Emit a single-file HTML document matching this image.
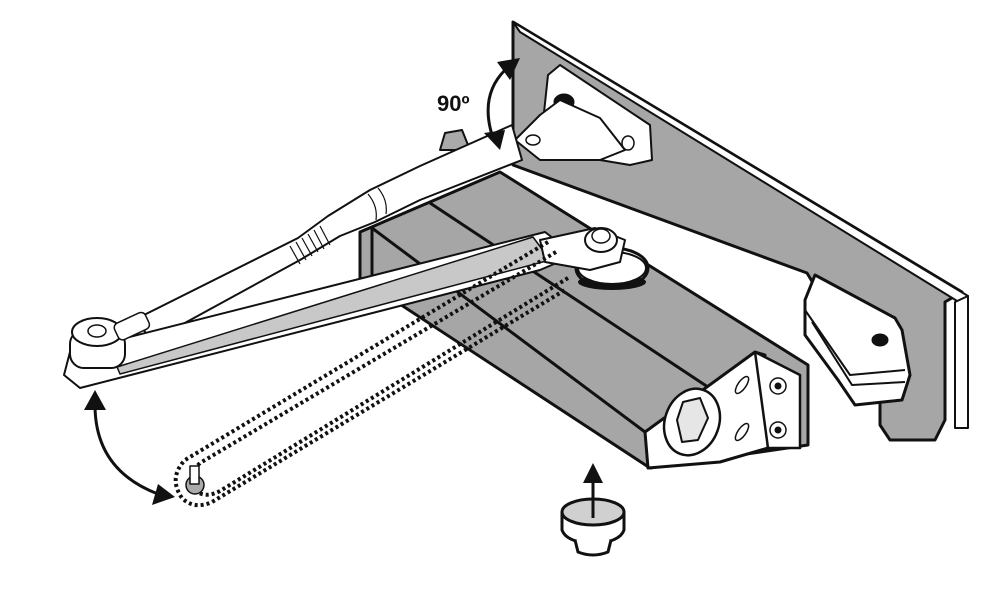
<!DOCTYPE html>
<html><head><style>html,body{margin:0;padding:0;background:#fff}svg{display:block}</style></head>
<body>
<svg width="1000" height="608" viewBox="0 0 1000 608" xmlns="http://www.w3.org/2000/svg">
<g stroke="#111" stroke-linejoin="round">
<!-- frame plate -->
<polygon points="513,22 962,292 945,302 945,420 935,440 890,440 880,425 880,395 807,273 513,165" fill="#a6a6a6" stroke-width="3"/>
<polygon points="513,22 968,296 962,304 520,32" fill="#fff" stroke-width="2"/>
<polygon points="955,302 968,296 968,428 955,428" fill="#fff" stroke-width="2"/>
<!-- top bracket -->
<polygon points="548,75 560,65 650,125 652,160 630,165 540,150" fill="#fff" stroke-width="2"/>
<ellipse cx="564" cy="102" rx="10" ry="8" fill="#111"/>
<polygon points="515,140 540,115 560,100 600,118 625,150 600,160 540,160" fill="#fff" stroke-width="2"/>
<ellipse cx="533" cy="140" rx="7" ry="5" fill="none" stroke-width="1.5"/>
<ellipse cx="628" cy="143" rx="6" ry="7" fill="none" stroke-width="1.5"/>
<!-- small block -->
<polygon points="440,150 445,133 462,130 470,150" fill="#aaa" stroke-width="2"/>
<!-- closer body -->
<polygon points="360,232 500,172 808,365 808,445 650,468 360,278" fill="#a6a6a6" stroke-width="3"/>
<line x1="430" y1="203" x2="720" y2="395" stroke-width="3"/>
<line x1="372" y1="228" x2="645" y2="432" stroke-width="3"/>
<line x1="372" y1="228" x2="372" y2="285" stroke-width="3"/>
<!-- end face -->
<polygon points="645,432 755,352 765,355 768,448 720,462 648,468" fill="#fff" stroke-width="3"/>
<polygon points="755,352 800,375 800,448 768,448" fill="#fff" stroke-width="2.5"/>
<ellipse cx="692" cy="422" rx="27" ry="34" fill="#fff" stroke-width="2.5" transform="rotate(20 692 422)"/>
<polygon points="683,402 700,398 708,418 698,440 682,442 677,420" fill="#e6e6e6" stroke-width="2"/>
<ellipse cx="742" cy="385" rx="4" ry="10" fill="#fff" stroke-width="1.5" transform="rotate(35 742 385)"/>
<ellipse cx="742" cy="432" rx="4" ry="10" fill="#fff" stroke-width="1.5" transform="rotate(35 742 432)"/>
<circle cx="778" cy="386" r="8" fill="#fff" stroke-width="1.5"/><circle cx="778" cy="386" r="3" fill="#111"/>
<circle cx="778" cy="430" r="8" fill="#fff" stroke-width="1.5"/><circle cx="778" cy="430" r="3" fill="#111"/>
<!-- right bracket -->
<path d="M805,300 L815,275 L895,318 L902,330 L910,375 L902,400 L855,405 L838,380 L805,335 Z" fill="#fff" stroke-width="3"/>
<path d="M805,310 L850,375 L905,370" fill="none" stroke-width="2"/>
<path d="M812,322 L852,385 L905,382" fill="none" stroke-width="2"/>
<ellipse cx="880" cy="340" rx="8" ry="6" fill="#111"/>
<!-- upper rod -->
<polygon points="512,125 522,160 420,200 375,222 340,236 300,260 150,342 138,318 298,238 328,216 370,190 420,166" fill="#fff" stroke-width="2"/>
<g stroke-width="1.2" fill="none">
<line x1="290" y1="246" x2="300" y2="264"/><line x1="296" y1="242" x2="306" y2="260"/><line x1="302" y1="238" x2="312" y2="256"/><line x1="308" y1="234" x2="318" y2="252"/><line x1="314" y1="230" x2="324" y2="249"/><line x1="320" y1="226" x2="330" y2="245"/>
<path d="M368,194 q10,12 8,26"/><path d="M378,188 q10,12 8,26"/>
</g>
<!-- lower flat arm -->
<polygon points="70,352 545,232 575,255 540,270 80,388 64,375" fill="#fff" stroke-width="2"/>
<polygon points="117,367 533,237 550,260 120,374" fill="#c8c8c8" stroke-width="1.5"/>
<!-- elbow -->
<rect x="70" y="330" width="55" height="38" rx="14" fill="#fff" stroke-width="2"/>
<ellipse cx="97" cy="332" rx="25" ry="14" fill="#fff" stroke-width="2"/>
<ellipse cx="97" cy="331" rx="9" ry="6" fill="#fff" stroke-width="1.5"/>
<rect x="115" y="318" width="34" height="18" rx="5" fill="#fff" stroke-width="1.5" transform="rotate(-25 130 327)"/>
<!-- pivot -->
<ellipse cx="612" cy="268" rx="36" ry="20" fill="#fff" stroke-width="3"/>
<ellipse cx="612" cy="282" rx="34" ry="8" fill="#111" stroke="none"/>
<ellipse cx="612" cy="268" rx="34" ry="16" fill="#fff" stroke-width="2"/>
<path d="M540,240 L595,228 L625,240 L620,262 L590,270 L545,262 Z" fill="#fff" stroke-width="2"/>
<ellipse cx="601" cy="240" rx="16" ry="12" fill="#fff" stroke-width="2"/>
<ellipse cx="601" cy="236" rx="9" ry="7" fill="#fff" stroke-width="1.5"/>
<!-- dotted arm -->
<g fill="none" stroke-width="4" stroke-dasharray="3 3">
<path d="M548,242 L185,460 Q168,478 182,498 Q194,510 212,502 L565,290"/>
<path d="M556,252 L200,463 Q186,477 195,490 Q205,499 220,491 L568,278"/>
</g>
<circle cx="195" cy="485" r="9" fill="#aaa" stroke-width="1.5"/>
<rect x="190" y="466" width="9" height="18" fill="#fff" stroke-width="1.5"/>
<!-- cap -->
<path d="M562,512 L562,530 Q566,542 593,544 Q620,542 624,530 L624,512" fill="#fff" stroke-width="3"/>
<path d="M575,540 L578,552 Q593,558 608,552 L611,540" fill="#fff" stroke-width="3"/>
<ellipse cx="593" cy="512" rx="31" ry="13" fill="#d0d0d0" stroke-width="3"/>
<line x1="593" y1="518" x2="593" y2="478" stroke-width="3"/>
<polygon points="593,463 583,483 603,483" fill="#111" stroke="none"/>
<!-- curved arrows -->
<path d="M95,405 Q95,470 158,494" fill="none" stroke-width="3"/>
<polygon points="95,390 84,410 106,410" fill="#111" stroke="none"/>
<polygon points="175,497 152,505 158,484" fill="#111" stroke="none"/>
<path d="M505,70 Q480,95 492,135" fill="none" stroke-width="3"/>
<polygon points="520,58 497,62 510,80" fill="#111" stroke="none"/>
<polygon points="500,150 484,133 505,130" fill="#111" stroke="none"/>
</g>
<text x="437" y="111" font-family="Liberation Sans, sans-serif" font-weight="bold" font-size="22" fill="#111">90º</text>
</svg>
</body></html>
